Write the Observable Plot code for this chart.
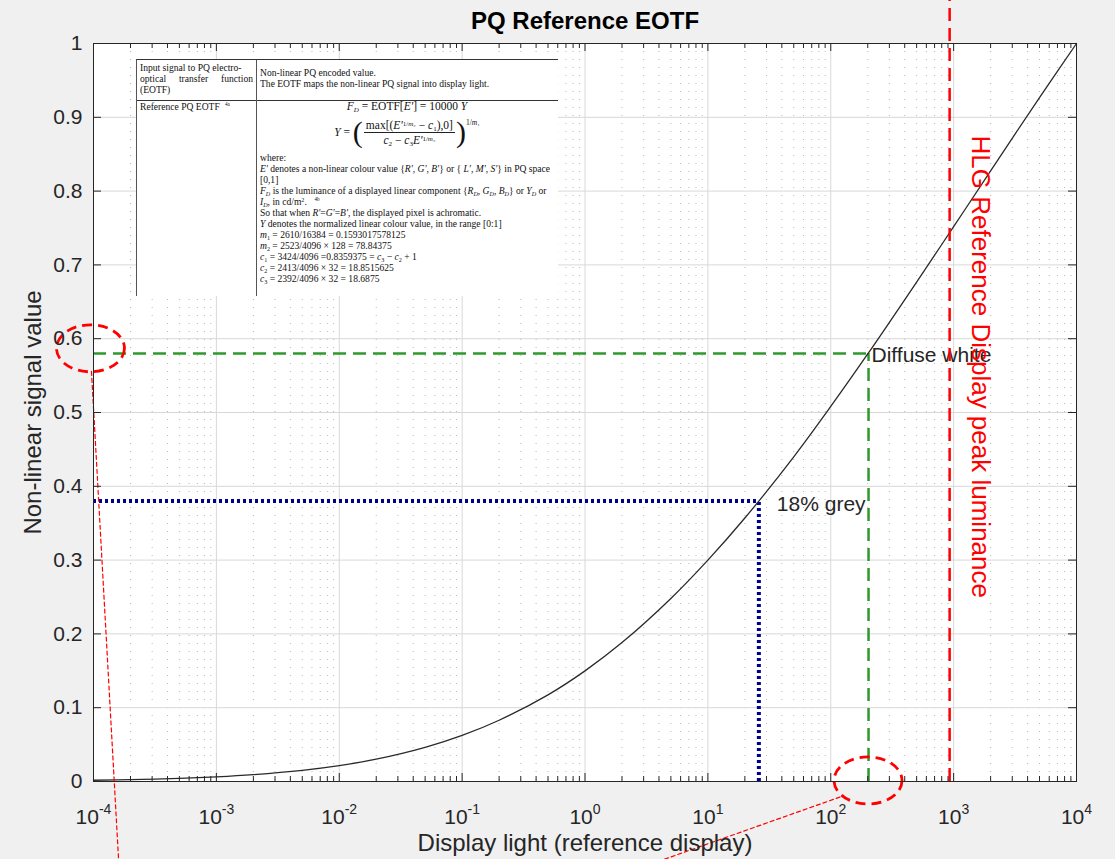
<!DOCTYPE html>
<html><head><meta charset="utf-8">
<script src="https://cdn.jsdelivr.net/npm/d3@7"></script>
<script src="https://cdn.jsdelivr.net/npm/@observablehq/plot@0.6"></script>
<style>
html,body{margin:0;padding:0;background:#f0f0f0;}
#wrap{position:relative;width:1115px;height:859px;overflow:hidden;}
#tbl{position:absolute;left:136px;top:59px;width:421px;height:236px;background:#fff;border-top:1px solid #333;border-left:1px solid #555;font-family:"Liberation Serif","Times New Roman",serif;font-size:11px;line-height:10px;color:#111;}
.ln{position:absolute;white-space:nowrap;transform:scaleX(0.87);transform-origin:0 50%;}
.ctr{position:absolute;left:119px;width:302px;text-align:center;white-space:nowrap;}
.ctr>span{display:inline-block;font-size:11.5px;}
#tbl sub{font-size:7px;line-height:0;vertical-align:-1.5px;}
#tbl sup{font-size:7px;line-height:0;vertical-align:3.5px;}
.fn{font-size:6px !important;margin-left:6px;}
.frac{display:inline-flex;flex-direction:column;align-items:center;vertical-align:middle;margin:0 1px;}
.num{border-bottom:1px solid #222;padding:0 2px 1px 2px;line-height:12px;}
.den{line-height:12px;padding-top:1px;}
.bp{font-size:30px;line-height:30px;font-weight:300;}
</style>
</head><body>
<div id="wrap"></div>
<script>
// ---- data ----
const luminance = [1e-4, 2e-4, 5e-4, 1e-3, 2e-3, 5e-3, 0.01, 0.02, 0.05, 0.1, 0.2, 0.5, 1, 2, 5, 10, 20, 50, 100, 200, 500, 1000, 2000, 5000, 10000];
const signal    = [0.0017, 0.0025, 0.0042, 0.0063, 0.0093, 0.0151, 0.0215, 0.0302, 0.0462, 0.0624, 0.0830, 0.1174, 0.1499, 0.1882, 0.2480, 0.2999, 0.3570, 0.4400, 0.5082, 0.5793, 0.6768, 0.7518, 0.8274, 0.9268, 1.0];
const xDecades = [1e-4, 1e-3, 1e-2, 1e-1, 1, 10, 100, 1000, 10000];
const xTickExponents = ["-4", "-3", "-2", "-1", "0", "1", "2", "3", "4"];
const yTicks = [0, 0.1, 0.2, 0.3, 0.4, 0.5, 0.6, 0.7, 0.8, 0.9, 1];
const yTickLabels = ["0", "0.1", "0.2", "0.3", "0.4", "0.5", "0.6", "0.7", "0.8", "0.9", "1"];
const diffuseWhite = [{x: 203, y: 0.58, label: "Diffuse white"}];
const grey18 = [{x: 26, y: 0.38, label: "18% grey"}];
const hlgPeak = [{x: 1000, yTop: 1.06, labelY: 0.562, label: "HLG Reference Display peak luminance"}];
const callouts = [{x: 9.45e-5, y: 0.587}, {x: 201, y: 0.0014}];
const leaderLeft = [{x: 9.63e-5, y: 0.5556}, {x: 1.6e-4, y: -0.106}];
const leaderBottom = [{x: 118.8, y: -0.0211}, {x: 4.31, y: -0.106}];
const titleText = "PQ Reference EOTF";
const xLabel = "Display light (reference display)";
const yLabel = "Non-linear signal value";

const tableLeft = [
  {y: 66.7, html: "Input signal to PQ electro-"},
  {y: 77.7, html: "optical transfer function", justify: 113},
  {y: 88.7, html: "(EOTF)"},
  {y: 105.7, html: "Reference PQ EOTF<sup class='fn'>4a</sup>"}
];
const tableRight = [
  {y: 72.3, html: "Non-linear PQ encoded value."},
  {y: 83.3, html: "The EOTF maps the non-linear PQ signal into display light."},
  {y: 156.7, html: "where:"},
  {y: 167.7, html: "<i>E'</i> denotes a non-linear colour value {<i>R'</i>, <i>G'</i>, <i>B'</i>} or { <i>L'</i>, <i>M'</i>, <i>S'</i>} in PQ space"},
  {y: 178.7, html: "[0,1]"},
  {y: 189.7, html: "<i>F<sub>D</sub></i> is the luminance of a displayed linear component {<i>R<sub>D</sub></i>, <i>G<sub>D</sub></i>, <i>B<sub>D</sub></i>} or <i>Y<sub>D</sub></i> or"},
  {y: 200.7, html: "<i>I<sub>D</sub></i>, in cd/m<sup>2</sup>. <sup class='fn'>4b</sup>"},
  {y: 211.7, html: "So that when <i>R'</i>=<i>G'</i>=<i>B'</i>, the displayed pixel is achromatic."},
  {y: 222.7, html: "<i>Y</i> denotes the normalized linear colour value, in the range [0:1]"},
  {y: 233.7, html: "<i>m</i><sub>1</sub> = 2610/16384 = 0.1593017578125"},
  {y: 244.7, html: "<i>m</i><sub>2</sub> = 2523/4096 × 128 = 78.84375"},
  {y: 255.7, html: "<i>c</i><sub>1</sub> = 3424/4096 =0.8359375 = <i>c</i><sub>3</sub> − <i>c</i><sub>2</sub> + 1"},
  {y: 266.7, html: "<i>c</i><sub>2</sub> = 2413/4096 × 32 = 18.8515625"},
  {y: 277.7, html: "<i>c</i><sub>3</sub> = 2392/4096 × 32 = 18.6875"}
];

// ---- layout ----
const W = 1115, H = 859, ML = 93, MR = 39, MT = 43, MB = 78;
const FW = W - ML - MR, FH = H - MT - MB;
const RED = "#ff0000", GREEN = "#2e9a2e", NAVY = "#00008f", INK = "#262626";

const curve = luminance.map((x, i) => ({x, y: signal[i]}));
const minorX = d3.scaleLog().domain([xDecades[0], xDecades[xDecades.length - 1]]).ticks()
  .filter(v => Math.abs(Math.log10(v) - Math.round(Math.log10(v))) > 1e-6);

function ellipseSymbol(rx, ry) {
  return {draw(ctx) {
    const k = 0.5523, ox = rx * k, oy = ry * k;
    ctx.moveTo(rx, 0);
    ctx.bezierCurveTo(rx, oy, ox, ry, 0, ry);
    ctx.bezierCurveTo(-ox, ry, -rx, oy, -rx, 0);
    ctx.bezierCurveTo(-rx, -oy, -ox, -ry, 0, -ry);
    ctx.bezierCurveTo(ox, -ry, rx, -oy, rx, 0);
    ctx.closePath();
  }};
}

const chart = Plot.plot({
  width: W, height: H,
  marginLeft: ML, marginRight: MR, marginTop: MT, marginBottom: MB,
  style: {background: "transparent", color: INK, fontFamily: "'Liberation Sans', Arial, Helvetica, sans-serif", overflow: "visible"},
  x: {type: "log", domain: [xDecades[0], xDecades[xDecades.length - 1]]},
  y: {domain: [yTicks[0], yTicks[yTicks.length - 1]]},
  marks: [
    Plot.frame({fill: "white", stroke: null}),
    Plot.ruleX(minorX, {stroke: "#b8b8b8", strokeDasharray: "1,7", strokeWidth: 1}),
    Plot.ruleX(xDecades, {stroke: "#d8d8d8", strokeWidth: 1}),
    Plot.ruleY(yTicks, {stroke: "#d8d8d8", strokeWidth: 1}),
    // reference markers
    Plot.ruleY(diffuseWhite, {y: "y", x1: () => xDecades[0], x2: "x", stroke: GREEN, strokeWidth: 2.5, strokeDasharray: "13,7"}),
    Plot.ruleX(diffuseWhite, {x: "x", y1: () => yTicks[0], y2: "y", stroke: GREEN, strokeWidth: 2.5, strokeDasharray: "13,7"}),
    Plot.ruleY(grey18, {y: "y", x1: () => xDecades[0], x2: "x", stroke: NAVY, strokeWidth: 4, strokeDasharray: "3,3"}),
    Plot.ruleX(grey18, {x: "x", y1: () => yTicks[0], y2: "y", stroke: NAVY, strokeWidth: 4, strokeDasharray: "3,3"}),
    Plot.line(curve, {x: "x", y: "y", stroke: "#2a2a2a", strokeWidth: 1.3, curve: "catmull-rom"}),
    Plot.text(diffuseWhite, {x: "x", y: "y", text: "label", textAnchor: "start", dx: 3, dy: 2, fontSize: 21, fill: INK}),
    Plot.text(grey18, {x: "x", y: "y", text: "label", textAnchor: "start", dx: 18, dy: 3, fontSize: 21, fill: INK}),
    Plot.ruleX(hlgPeak, {x: "x", y1: () => yTicks[0], y2: "yTop", dx: -4, stroke: RED, strokeWidth: 2.5, strokeDasharray: "13,7"}),
    Plot.text(hlgPeak, {x: "x", y: "labelY", text: "label", rotate: 90, dx: 27, fontSize: 26, fill: RED}),
    // callouts
    Plot.dot(callouts, {x: "x", y: "y", r: 30, symbol: ellipseSymbol(34, 23.5), fill: "none", stroke: RED, strokeWidth: 2.8, strokeDasharray: "10,6"}),
    Plot.line(leaderLeft, {x: "x", y: "y", stroke: RED, strokeWidth: 1.2, strokeDasharray: "4,3"}),
    Plot.line(leaderBottom, {x: "x", y: "y", stroke: RED, strokeWidth: 1.2, strokeDasharray: "4,3"}),
    // ticks (inward, both sides)
    Plot.ruleX(xDecades, {insetTop: FH - 8, stroke: INK}),
    Plot.ruleX(xDecades, {insetBottom: FH - 8, stroke: INK}),
    Plot.ruleX(minorX, {insetTop: FH - 5, stroke: INK}),
    Plot.ruleX(minorX, {insetBottom: FH - 5, stroke: INK}),
    Plot.ruleY(yTicks, {insetRight: FW - 8, stroke: INK}),
    Plot.ruleY(yTicks, {insetLeft: FW - 8, stroke: INK}),
    Plot.frame({stroke: INK, strokeWidth: 1}),
    Plot.axisX({ticks: xDecades, tickSize: 0, tickPadding: 28, fontSize: 21, label: null,
      tickFormat: d => xTickExponents[xDecades.findIndex(v => Math.abs(v - d) / v < 1e-6)]}),
    Plot.axisY({ticks: yTicks, tickSize: 0, tickPadding: 11, fontSize: 21, label: null,
      tickFormat: d => yTickLabels[yTicks.findIndex(v => Math.abs(v - d) < 1e-9)]}),
    Plot.text([titleText], {frameAnchor: "top", lineAnchor: "middle", dy: -22, fontSize: 24, fontWeight: "bold", fill: "#000"}),
    Plot.text([xLabel], {frameAnchor: "bottom", lineAnchor: "middle", dy: 62, fontSize: 24, fill: INK}),
    Plot.text([yLabel], {frameAnchor: "left", textAnchor: "middle", lineAnchor: "middle", dx: -60, rotate: -90, fontSize: 24, fill: INK})
  ]
});

// superscript exponents on x tick labels
const NS = "http://www.w3.org/2000/svg";
chart.querySelectorAll('g[aria-label="x-axis tick label"] text').forEach(t => {
  const e = t.textContent;
  t.textContent = "";
  const base = document.createElementNS(NS, "tspan");
  base.textContent = "10";
  const sup = document.createElementNS(NS, "tspan");
  sup.setAttribute("dy", "-10");
  sup.setAttribute("font-size", "14");
  sup.textContent = e;
  t.append(base, sup);
});

const wrap = document.getElementById("wrap");
wrap.appendChild(chart);

// embedded table (image-like insert in the reference)
const tbl = document.createElement("div");
tbl.id = "tbl";
const T0 = 59, L0 = 136, LH = 10;
let html = "";
html += `<div style="position:absolute;left:0;top:${99 - T0}px;width:421px;height:1px;background:#333"></div>`;
html += `<div style="position:absolute;left:${255 - L0}px;top:0;bottom:0;width:1px;background:#555"></div>`;
for (const r of tableLeft) {
  const top = r.y - T0 - LH / 2 - 1;
  if (r.justify) {
    html += `<div class="ln" style="left:${139 - L0}px;top:${top}px;width:${r.justify / 0.87}px;text-align:justify;text-align-last:justify">${r.html}</div>`;
  } else {
    html += `<div class="ln" style="left:${139 - L0}px;top:${top}px">${r.html}</div>`;
  }
}
for (const r of tableRight) {
  const top = r.y - T0 - LH / 2 - 1;
  html += `<div class="ln" style="left:${259 - L0}px;top:${top}px">${r.html}</div>`;
}
html += `<div class="ctr" style="top:${105.7 - T0 - LH / 2 - 1}px"><span><i>F<sub>D</sub></i> = EOTF[<i>E'</i>] = 10000 <i>Y</i></span></div>`;
html += `<div class="ctr" style="top:${131 - T0 - 15}px;height:30px"><span style="display:inline-flex;align-items:center;height:30px"><i>Y</i>&nbsp;=&nbsp;<span class="bp">(</span><span class="frac"><span class="num">max[(<i>E'</i><sup>1/<i>m</i>₂</sup> − <i>c</i><sub>1</sub>),0]</span><span class="den"><i>c</i><sub>2</sub> − <i>c</i><sub>3</sub><i>E'</i><sup>1/<i>m</i>₂</sup></span></span><span class="bp">)</span><span style="align-self:flex-start;font-size:7.5px;margin-top:1px">1/<i>m</i>₁</span></span></div>`;
tbl.innerHTML = html;
wrap.appendChild(tbl);
</script>
</body></html>
